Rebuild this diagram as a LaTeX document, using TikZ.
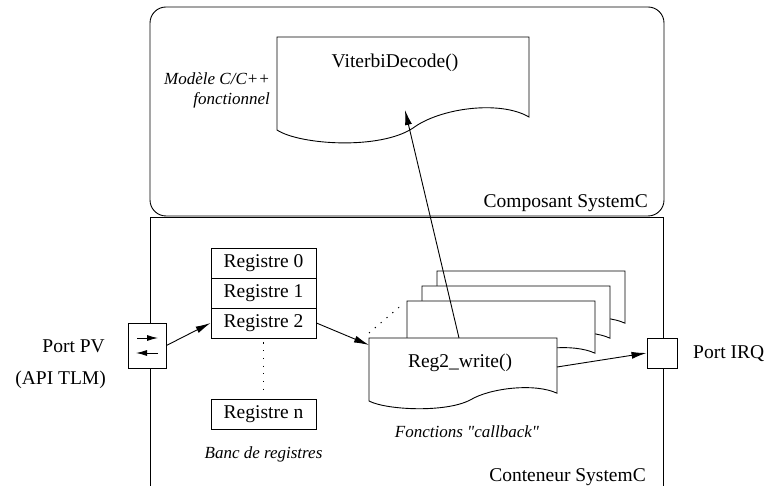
\documentclass[tikz,border=0pt]{standalone}
\usepackage{fontspec}
\setmainfont{Liberation Serif}[Ligatures=TeXOff]
\usetikzlibrary{arrows.meta}
\newcommand{\mydocsheet}[5]{%
\draw[docline] ({#1},{#2+#4}) -- ({#1},{#2}) -- ({#1+#3},{#2}) -- ({#1+#3},{#2+#4-13*#5})
 .. controls ({#1+0.885*#3},{#2+#4-30*#5}) and ({#1+0.647*#3},{#2+#4-22*#5}) .. ({#1+0.54*#3},{#2+#4-2*#5})
 .. controls ({#1+0.409*#3},{#2+#4+20*#5}) and ({#1+0.091*#3},{#2+#4+15*#5}) .. ({#1},{#2+#4}) -- cycle;}
\begin{document}
\begin{tikzpicture}[x=1pt,y=-1pt,
  docline/.style={draw=black,fill=white,line width=0.9pt},
  regbox/.style={draw=black,line width=0.9pt,minimum width=105pt,minimum height=30pt,inner sep=0pt,font=\mainfnt},
  portbox/.style={draw=black,fill=white,line width=0.9pt,inner sep=0pt},
  arr/.style={line width=0.9pt,-{Latex[length=15pt,width=7pt]}},
  smallarr/.style={line width=0.9pt,-{Latex[length=11pt,width=6pt]}},
  dots/.style={line width=1pt,dash pattern=on 1.2pt off 6.5pt},
  lbl/.style={inner sep=0pt,font=\mainfnt},
  ilbl/.style={inner sep=0pt,font=\itfnt},
]
\def\mainfnt{\fontsize{19.5}{23}\selectfont}
\def\itfnt{\fontsize{17}{20}\selectfont\itshape}
\useasboundingbox (0,0) rectangle (766,486);
\fill[white] (0,0) rectangle (766,486);

% Composant SystemC
\draw[line width=0.9pt,rounded corners=16pt] (150,7) rectangle (664,216);
\node[lbl,anchor=east] (complbl) at (648,203) {Composant SystemC};
\mydocsheet{277}{37}{252}{93}{1}
\node[lbl] (vit) at (395,63) {ViterbiDecode()};
\node[ilbl,anchor=east,align=right] (model) at (270,90) {Modèle C/C++\\fonctionnel};
\coordinate (vitin) at (405,110);

% Conteneur SystemC
\draw[line width=1pt] (150,486) -- (150,218) -- (663,218) -- (663,486);
\node[lbl,anchor=east] (contlbl) at (646,477) {Conteneur SystemC};

% registers
\node[regbox] (reg0) at (263.5,263) {Registre 0};
\node[regbox] (reg1) at (263.5,293) {Registre 1};
\node[regbox] (reg2) at (263.5,323) {Registre 2};
\node[regbox] (regn) at (263.5,414) {Registre n};
\draw[dots] ([yshift=-4pt]reg2.south) -- ([yshift=7pt]regn.north);
\node[ilbl] (banc) at (263.5,454) {Banc de registres};

% Port PV
\node[portbox,minimum width=38pt,minimum height=45pt] (pv) at (147,345.5) {};
\draw[smallarr] ([xshift=-10pt,yshift=7.5pt]pv.center) -- ([xshift=11pt,yshift=7.5pt]pv.center);
\draw[smallarr] ([xshift=11pt,yshift=-7.5pt]pv.center) -- ([xshift=-11pt,yshift=-7.5pt]pv.center);
\node[lbl,anchor=east] (pvlbl) at (105,346) {Port PV};
\node[lbl,anchor=east] (apilbl) at (106,380) {(API TLM)};

% Port IRQ
\node[portbox,minimum width=30pt,minimum height=30pt] (irq) at (662,353) {};
\node[lbl,anchor=west] (irqlbl) at (693,354) {Port IRQ};

% callback sheets
\mydocsheet{437}{271}{188}{60}{0.6}
\mydocsheet{422}{286}{188}{60}{0.6}
\mydocsheet{407}{301}{188}{60}{0.6}
\mydocsheet{369}{338}{188}{63}{0.6}
\node[lbl] (reg2w) at (460,363) {Reg2\_write()};
\node[ilbl] (fonc) at (467,432) {Fonctions "callback"};
\coordinate (cbin) at (369,345);
\coordinate (cbout) at (557,367);
\coordinate (cbtop) at (459,338);
\coordinate (cbcorner) at (369,333);
\coordinate (s1corner) at (404,303);
\draw[dots] (cbcorner) -- (s1corner);

% connectors
\draw[arr] (pv.east) -- (reg2.west);
\draw[arr] (reg2.east) -- (cbin);
\draw[arr] (cbout) -- (irq.west);
\draw[arr] (cbtop) -- (vitin);
\end{tikzpicture}
\end{document}
